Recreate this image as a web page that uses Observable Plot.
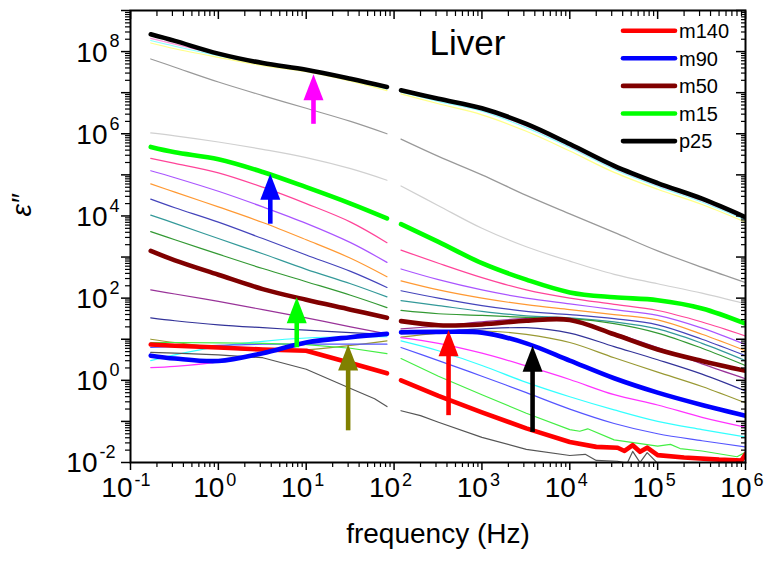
<!DOCTYPE html>
<html><head><meta charset="utf-8">
<script src="https://cdn.jsdelivr.net/npm/d3@7"></script>
<script src="https://cdn.jsdelivr.net/npm/@observablehq/plot@0.6"></script>
<style>body{margin:0;background:#fff;}</style>
</head><body><div id="chart"></div><script>
// Frequencies (Hz) of the two measured segments
const freqLeft = [0.17, 0.32, 1, 3.2, 10, 32, 83];
const freqRight = [120, 320, 1000, 3200, 1e4, 3.2e4, 1e5, 3.2e5, 1e6];

// log10(eps'')
const p25L = [8.42, 8.26, 7.95, 7.72, 7.56, 7.34, 7.14];
const p25R = [7.06, 6.85, 6.62, 6.24, 5.75, 5.22, 4.80, 4.42, 3.97];
const pinkTopL = [8.32, 8.18, 7.93, 7.73, 7.55, 7.33, 7.11];
const pinkTopR = [7.03, 6.82, 6.58, 6.19, 5.70, 5.17, 4.75, 4.37, 3.93];
const cyanTopL = [8.27, 8.13, 7.90, 7.70, 7.54, 7.31, 7.09];
const cyanTopR = [7.01, 6.79, 6.55, 6.15, 5.67, 5.14, 4.72, 4.34, 3.90];
const yellowTopL = [8.21, 8.07, 7.86, 7.66, 7.51, 7.28, 7.05];
const yellowTopR = [6.97, 6.73, 6.46, 6.06, 5.58, 5.06, 4.65, 4.28, 3.85];
const grayDarkL = [7.82, 7.62, 7.26, 6.93, 6.62, 6.30, 6.00];
const grayDarkR = [5.87, 5.45, 5.00, 4.50, 4.05, 3.60, 3.15, 2.75, 2.38];
const grayLightL = [6.02, 5.95, 5.80, 5.62, 5.42, 5.15, 4.87];
const grayLightR = [4.73, 4.25, 3.70, 3.25, 2.90, 2.58, 2.35, 2.12, 1.86];
const m15L = [5.68, 5.55, 5.38, 5.07, 4.70, 4.30, 3.94];
const m15R = [3.80, 3.37, 2.85, 2.45, 2.14, 2.02, 1.95, 1.75, 1.38];
const hotPinkL = [5.40, 5.28, 5.05, 4.70, 4.30, 3.85, 3.35];
const hotPinkR = [3.17, 2.85, 2.50, 2.20, 2.00, 1.85, 1.70, 1.42, 1.08];
const violetL = [5.10, 4.93, 4.60, 4.22, 3.82, 3.35, 2.87];
const violetR = [2.71, 2.45, 2.20, 2.00, 1.86, 1.72, 1.58, 1.27, 0.87];
const orangeL = [4.78, 4.58, 4.22, 3.84, 3.42, 2.97, 2.52];
const orangeR = [2.42, 2.20, 2.00, 1.84, 1.72, 1.60, 1.47, 1.12, 0.72];
const slateL = [4.41, 4.20, 3.85, 3.45, 3.05, 2.65, 2.26];
const slateR = [2.18, 2.00, 1.82, 1.68, 1.60, 1.50, 1.35, 1.00, 0.60];
const tealL = [4.02, 3.82, 3.45, 3.08, 2.70, 2.35, 2.03];
const tealR = [1.94, 1.82, 1.68, 1.57, 1.52, 1.42, 1.25, 0.90, 0.48];
const darkGreenL = [3.62, 3.42, 3.07, 2.72, 2.40, 2.07, 1.77];
const darkGreenR = [1.70, 1.62, 1.58, 1.53, 1.50, 1.38, 1.15, 0.78, 0.36];
const m50L = [3.15, 2.92, 2.57, 2.22, 1.96, 1.72, 1.52];
const m50R = [1.44, 1.34, 1.36, 1.45, 1.47, 1.12, 0.75, 0.47, 0.23];
const purpleL = [2.20, 2.10, 1.92, 1.72, 1.52, 1.30, 1.13];
const purpleR = [1.25, 1.32, 1.42, 1.50, 1.46, 1.15, 0.80, 0.40, 0.04];
const darkBlueL = [1.52, 1.45, 1.35, 1.28, 1.22, 1.16, 1.12];
const darkBlueR = [1.13, 1.18, 1.25, 1.28, 1.15, 0.82, 0.50, 0.15, -0.26];
const oliveL = [1.00, 0.92, 0.80, 0.72, 0.74, 0.85, 0.96];
const oliveR = [1.05, 1.15, 1.20, 1.12, 0.92, 0.55, 0.20, -0.15, -0.55];
const m90L = [0.60, 0.53, 0.47, 0.66, 0.92, 1.05, 1.13];
const m90R = [1.17, 1.18, 1.16, 0.90, 0.48, 0.05, -0.30, -0.60, -0.86];
const magentaL = [0.31, 0.34, 0.45, 0.65, 0.88, 1.05, 1.15];
const magentaR = [1.04, 0.90, 0.66, 0.35, 0.02, -0.35, -0.60, -0.90, -1.14];
const cyanLowL = [0.48, 0.62, 0.82, 0.95, 1.03, 1.06, 1.06];
const cyanLowR = [0.96, 0.72, 0.36, -0.05, -0.40, -0.72, -1.00, -1.20, -1.38];
const blueVioletL = [0.80, 0.82, 0.85, 0.88, 0.88, 0.88, 0.88];
const blueVioletR = [0.80, 0.48, 0.10, -0.30, -0.70, -1.05, -1.30, -1.47, -1.62];
const lightGreenL = [0.92, 0.92, 0.91, 0.90, 0.87, 0.78, 0.65];
const lightGreenFreqR = [120, 320, 1000, 3200, 1e4, 1.3e4, 1.6e4, 3.2e4, 1e5, 1.4e5, 1.8e5, 3.2e5, 8e5, 1e6];
const lightGreenR = [0.53, 0.10, -0.35, -0.80, -1.20, -1.24, -1.18, -1.45, -1.60, -1.56, -1.66, -1.72, -1.86, -1.75];
const m140L = [0.87, 0.84, 0.80, 0.75, 0.72, 0.42, 0.17];
const m140FreqR = [120, 320, 1000, 3200, 1e4, 2e4, 3.5e4, 4.2e4, 5.2e4, 6.3e4, 7.6e4, 1e5, 2e5, 5e5, 9e5, 1e6];
const m140R = [0.00, -0.38, -0.78, -1.17, -1.50, -1.62, -1.64, -1.72, -1.58, -1.74, -1.64, -1.82, -1.88, -1.93, -1.95, -1.80];
const grayBotFreqL = [0.17, 0.32, 1, 3.2, 10, 32, 60, 83];
const grayBotL = [0.68, 0.66, 0.62, 0.55, 0.27, -0.20, -0.45, -0.64];
const grayBotFreqR = [120, 200, 320, 1000, 3200, 1e4, 1.5e4, 2e4, 3.5e4, 4.5e4, 5.2e4, 6.3e4, 7.6e4, 1e5, 2e5, 1e6];
const grayBotR = [-0.74, -0.86, -1.02, -1.39, -1.68, -1.83, -1.80, -1.95, -1.97, -2.02, -1.73, -2.00, -1.76, -2.02, -2.20, -2.30];

// Legend
const legendNames = ["m140", "m90", "m50", "m15", "p25"];
const legendColors = ["#ff0000", "#0000ff", "#800000", "#00ff00", "#000000"];

// Arrows (frequency, tail value, tip value, colour)
const arrowFreq = [12.1, 3.9, 7.8, 30, 417, 3770];
const arrowTail = [1.7e6, 6.3e3, 6.2, 0.059, 0.138, 0.054];
const arrowTip = [2.8e7, 1.07e5, 105, 7.4, 16.6, 6.9];
const arrowColor = ["#ff00ff", "#0000ff", "#00ff00", "#808000", "#ff0000", "#000000"];

// Axis tick exponents
const xDecades = [-1, 0, 1, 2, 3, 4, 5, 6];
const yDecades = [-2, -1, 0, 1, 2, 3, 4, 5, 6, 7, 8, 9];
const yLabelDecades = [-2, 0, 2, 4, 6, 8];

const thin = 1.2, thick = 4.6;
const seriesSpec = [
  {c: "#ffff88", w: thin, segs: [[freqLeft, yellowTopL], [freqRight, yellowTopR]]},
  {c: "#88ffff", w: thin, segs: [[freqLeft, cyanTopL], [freqRight, cyanTopR]]},
  {c: "#ff99dd", w: thin, segs: [[freqLeft, pinkTopL], [freqRight, pinkTopR]]},
  {c: "#999999", w: thin, segs: [[freqLeft, grayDarkL], [freqRight, grayDarkR]]},
  {c: "#d0d0d0", w: thin, segs: [[freqLeft, grayLightL], [freqRight, grayLightR]]},
  {c: "#ff4499", w: thin, segs: [[freqLeft, hotPinkL], [freqRight, hotPinkR]]},
  {c: "#aa55ff", w: thin, segs: [[freqLeft, violetL], [freqRight, violetR]]},
  {c: "#ff9933", w: thin, segs: [[freqLeft, orangeL], [freqRight, orangeR]]},
  {c: "#4444bb", w: thin, segs: [[freqLeft, slateL], [freqRight, slateR]]},
  {c: "#339999", w: thin, segs: [[freqLeft, tealL], [freqRight, tealR]]},
  {c: "#339933", w: thin, segs: [[freqLeft, darkGreenL], [freqRight, darkGreenR]]},
  {c: "#993399", w: thin, segs: [[freqLeft, purpleL], [freqRight, purpleR]]},
  {c: "#333399", w: thin, segs: [[freqLeft, darkBlueL], [freqRight, darkBlueR]]},
  {c: "#999933", w: thin, segs: [[freqLeft, oliveL], [freqRight, oliveR]]},
  {c: "#ff33ff", w: thin, segs: [[freqLeft, magentaL], [freqRight, magentaR]]},
  {c: "#33ffff", w: thin, segs: [[freqLeft, cyanLowL], [freqRight, cyanLowR]]},
  {c: "#5555ff", w: thin, segs: [[freqLeft, blueVioletL], [freqRight, blueVioletR]]},
  {c: "#44ee44", w: thin, segs: [[freqLeft, lightGreenL], [lightGreenFreqR, lightGreenR]], linear: true},
  {c: "#555555", w: thin, segs: [[grayBotFreqL, grayBotL], [grayBotFreqR, grayBotR]], linear: true},
  {c: "#ff0000", w: thick, segs: [[freqLeft, m140L], [m140FreqR, m140R]], linear: true},
  {c: "#0000ff", w: thick, segs: [[freqLeft, m90L], [freqRight, m90R]]},
  {c: "#800000", w: thick, segs: [[freqLeft, m50L], [freqRight, m50R]]},
  {c: "#00ff00", w: thick, segs: [[freqLeft, m15L], [freqRight, m15R]]},
  {c: "#000000", w: thick, segs: [[freqLeft, p25L], [freqRight, p25R]]}
];

const lineMarks = [];
seriesSpec.forEach((s) => {
  s.segs.forEach(([fs, vs]) => {
    const rows = fs.map((f, i) => ({f, e: Math.pow(10, vs[i])}));
    lineMarks.push(Plot.line(rows, {
      x: "f", y: "e", stroke: s.c, strokeWidth: s.w,
      curve: s.linear ? "linear" : "catmull-rom",
      strokeLinecap: "round", strokeLinejoin: "round", clip: true
    }));
  });
});

const arrows = arrowFreq.map((f, i) => ({f, tail: arrowTail[i], tip: arrowTip[i], color: arrowColor[i]}));
const arrowHead = {draw(ctx) { ctx.moveTo(0, 0); ctx.lineTo(10, 26); ctx.lineTo(-10, 26); ctx.closePath(); }};

const xMajor = xDecades.map((e) => Math.pow(10, e));
const xMinor = xDecades.slice(0, -1).flatMap((e) => [2, 3, 4, 5, 6, 7, 8, 9].map((k) => k * Math.pow(10, e)));
const yMajor = yDecades.map((e) => Math.pow(10, e));
const yMinor = yDecades.slice(0, -1).flatMap((e) => [2, 3, 4, 5, 6, 7, 8, 9].map((k) => k * Math.pow(10, e)));
const noText = () => "";

const xLab = xDecades.map((e) => ({v: Math.pow(10, e), exp: e < 0 ? "-" + (-e) : String(e), neg: e < 0}));
const yLab = yLabelDecades.map((e) => ({v: Math.pow(10, e), exp: e < 0 ? "-" + (-e) : String(e), neg: e < 0}));

const font = "Liberation Sans, Arial, sans-serif";

const plot = Plot.plot({
  width: 766, height: 563,
  marginLeft: 130, marginRight: 21, marginTop: 10, marginBottom: 101,
  x: {type: "log", domain: [0.1, 1e6]},
  y: {type: "log", domain: [1e-2, 1e9]},
  style: {fontFamily: font, background: "#fff", color: "#000"},
  marks: [
    ...lineMarks,
    // arrows
    Plot.ruleX(arrows, {x: "f", y1: "tip", y2: "tail", stroke: "color", strokeWidth: 4.6, insetTop: 20}),
    Plot.dot(arrows, {x: "f", y: "tip", fill: "color", stroke: null, r: 5, symbol: arrowHead}),
    // frame and ticks
    Plot.frame({stroke: "#000", strokeWidth: 2}),
    Plot.axisX({anchor: "bottom", ticks: xMajor, tickSize: 8, tickFormat: noText, label: null, strokeWidth: 1.5}),
    Plot.axisX({anchor: "bottom", ticks: xMinor, tickSize: 5, tickFormat: noText, label: null, strokeWidth: 1.2}),
    Plot.axisX({anchor: "top", ticks: xMajor, tickSize: 8, dy: 8, tickFormat: noText, label: null, strokeWidth: 1.5}),
    Plot.axisX({anchor: "top", ticks: xMinor, tickSize: 5, dy: 5, tickFormat: noText, label: null, strokeWidth: 1.2}),
    Plot.axisY({anchor: "left", ticks: yMajor, tickSize: 9, tickFormat: noText, label: null, strokeWidth: 1.5}),
    Plot.axisY({anchor: "left", ticks: yMinor, tickSize: 5, tickFormat: noText, label: null, strokeWidth: 1.2}),
    Plot.axisY({anchor: "right", ticks: yMajor, tickSize: 10, dx: -10, tickFormat: noText, label: null, strokeWidth: 1.5}),
    Plot.axisY({anchor: "right", ticks: yMinor, tickSize: 5, dx: -5, tickFormat: noText, label: null, strokeWidth: 1.2}),
    // x tick labels 10^n
    Plot.text(xLab.filter((d) => !d.neg), {x: "v", frameAnchor: "bottom", text: () => "10", textAnchor: "end", dx: 6, dy: 34, fontSize: 28}),
    Plot.text(xLab.filter((d) => !d.neg), {x: "v", frameAnchor: "bottom", text: "exp", textAnchor: "start", dx: 8, dy: 23, fontSize: 18}),
    Plot.text(xLab.filter((d) => d.neg), {x: "v", frameAnchor: "bottom", text: () => "10", textAnchor: "end", dx: 2, dy: 34, fontSize: 28}),
    Plot.text(xLab.filter((d) => d.neg), {x: "v", frameAnchor: "bottom", text: "exp", textAnchor: "start", dx: 4, dy: 23, fontSize: 18}),
    // y tick labels 10^n
    Plot.text(yLab.filter((d) => !d.neg), {y: "v", frameAnchor: "left", text: () => "10", textAnchor: "end", dx: -23, dy: 1, fontSize: 28}),
    Plot.text(yLab.filter((d) => !d.neg), {y: "v", frameAnchor: "left", text: "exp", textAnchor: "start", dx: -21, dy: -10, fontSize: 18}),
    Plot.text(yLab.filter((d) => d.neg), {y: "v", frameAnchor: "left", text: () => "10", textAnchor: "end", dx: -33, dy: 1, fontSize: 28}),
    Plot.text(yLab.filter((d) => d.neg), {y: "v", frameAnchor: "left", text: "exp", textAnchor: "start", dx: -31, dy: -10, fontSize: 18}),
    // axis titles and panel title
    Plot.text(["frequency (Hz)"], {frameAnchor: "bottom", text: (d) => d, dy: 80, fontSize: 28}),
    Plot.text(["ε″"], {frameAnchor: "left", text: (d) => d, rotate: -90, dx: -108, dy: -20, fontSize: 28, fontStyle: "italic"}),
    Plot.text(["Liver"], {frameAnchor: "top-left", text: (d) => d, textAnchor: "start", lineAnchor: "top", dx: 299, dy: 20, fontSize: 35})
  ]
});

// legend (inside the frame, top-right)
const svg = d3.select(plot);
const lg = svg.append("g").attr("font-family", font).attr("font-size", 20).attr("text-anchor", "start");
legendNames.forEach((n, i) => {
  const y = 30.7 + i * 27.6;
  lg.append("line").attr("x1", 623).attr("x2", 675).attr("y1", y).attr("y2", y)
    .attr("stroke", legendColors[i]).attr("stroke-width", 4.6).attr("stroke-linecap", "round");
  lg.append("text").attr("x", 679).attr("y", y).attr("dy", "0.36em").attr("fill", "#000")
    .attr("text-anchor", "start").text(n);
});

document.getElementById("chart").appendChild(plot);
</script></body></html>
